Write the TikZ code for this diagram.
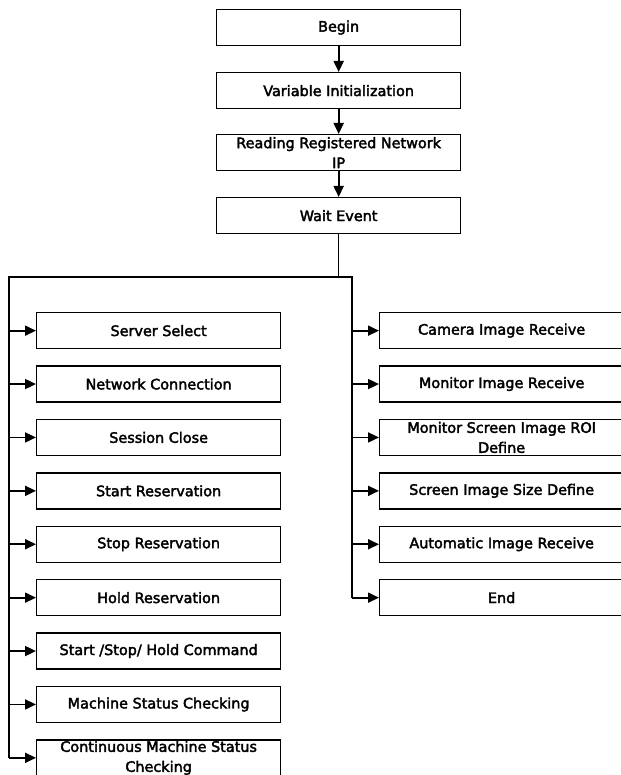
\documentclass[tikz,border=0pt]{standalone}
\usepackage{fontspec}
\newfontfamily\labfont{DejaVu Sans}[FakeBold=2.5]
\usetikzlibrary{arrows.meta}
\begin{document}
\begin{tikzpicture}[x=1pt,y=-1pt,
  box/.style={draw, line width=1.3pt, minimum width=244pt, minimum height=36pt,
    inner sep=0pt, anchor=north west, align=center,
    font=\labfont\fontsize{14.4}{20}\selectfont},
  flow/.style={line width=1.8pt, -{Triangle[length=11pt,width=10pt]}},
  bus/.style={line width=1.4pt, line join=miter}]
\useasboundingbox (0,0) rectangle (620,775);

% main sequence
\node[box] (begin)  at (216,9)   {Begin};
\node[box] (init)   at (216,72)  {Variable Initialization};
\node[box] (readip) at (216,134) {Reading Registered Network\\IP};
\node[box] (wait)   at (216,197) {Wait Event};

\draw[flow] (begin.south) -- (init.north);
\draw[flow] (init.south) -- (readip.north);
\draw[flow] (readip.south) -- (wait.north);

% event branches
\coordinate (ltop) at (9,277);
\coordinate (rtop) at (352,277);

\foreach \name/\txt [count=\i from 0] in {
    l0/{Server Select},
    l1/{Network Connection},
    l2/{Session Close},
    l3/{Start Reservation},
    l4/{Stop Reservation},
    l5/{Hold Reservation},
    l6/{Start /Stop/ Hold Command},
    l7/{Machine Status Checking},
    l8/{Continuous Machine Status\\Checking}}
  \node[box] (\name) at (36,312+\i*53.4) {\txt};

\foreach \name/\txt [count=\i from 0] in {
    r0/{Camera Image Receive},
    r1/{Monitor Image Receive},
    r2/{Monitor Screen Image ROI\\Define},
    r3/{Screen Image Size Define},
    r4/{Automatic Image Receive},
    r5/{End}}
  \node[box] (\name) at (379,312+\i*53.4) {\txt};

\draw[bus] (wait.south) -- (wait.south |- ltop);
\draw[bus] (ltop |- l8.west) -- (ltop) -- (rtop) -- (rtop |- r5.west);

\foreach \n in {l0,l1,l2,l3,l4,l5,l6,l7,l8}
  \draw[flow] (ltop |- \n.west) -- (\n.west);
\foreach \n in {r0,r1,r2,r3,r4,r5}
  \draw[flow] (rtop |- \n.west) -- (\n.west);
\end{tikzpicture}
\end{document}
